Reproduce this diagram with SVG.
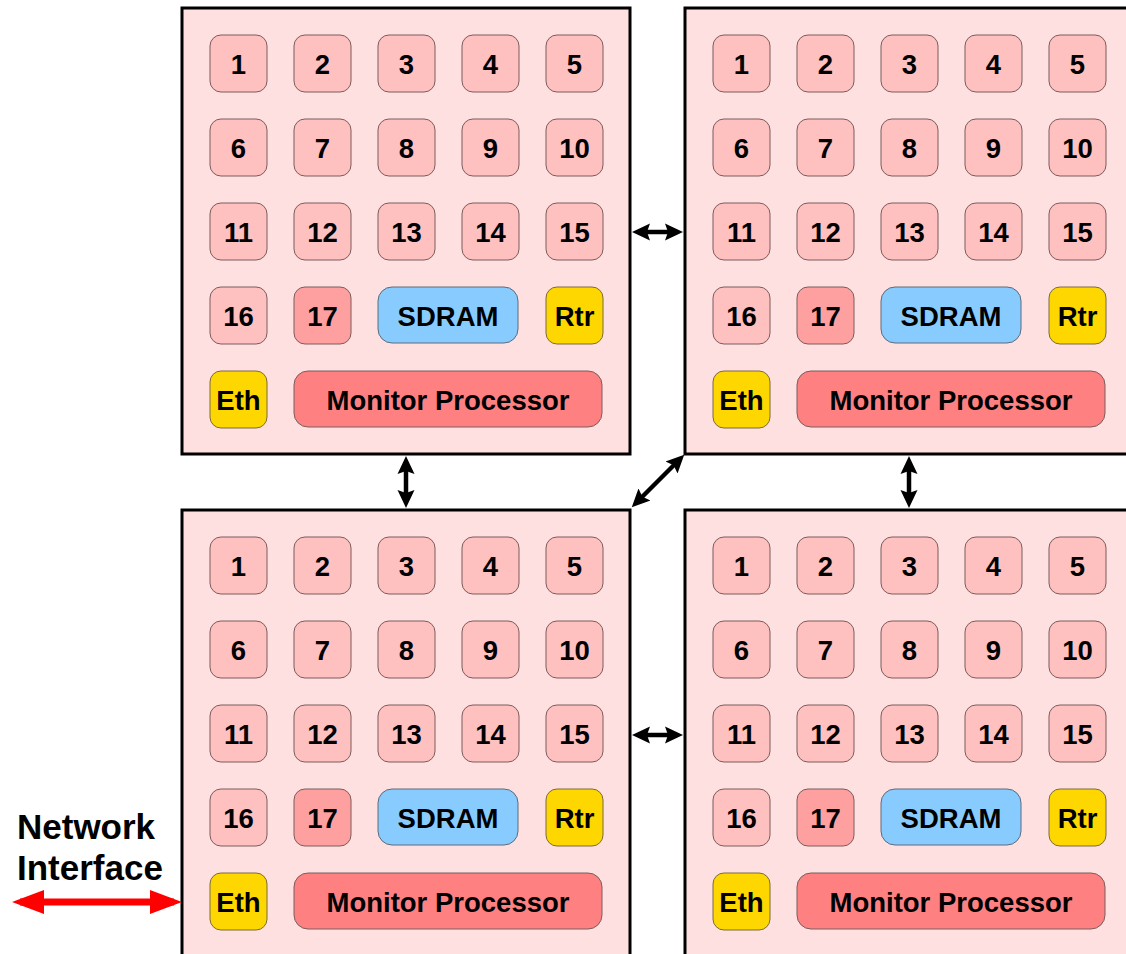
<svg xmlns="http://www.w3.org/2000/svg" width="1126" height="954" viewBox="0 0 1126 954">
<style>
.chip{fill:#FFE0E0;stroke:#000;stroke-width:3}
.t{fill:#FFC0C0;stroke:#7a5c5c;stroke-width:1}
.p{fill:#FFA0A0;stroke:#7a5c5c;stroke-width:1}
.d{fill:#FF8080;stroke:#7a5c5c;stroke-width:1}
.s{fill:#88CCFF;stroke:#5c6a7a;stroke-width:1}
.y{fill:#FFD700;stroke:#7a6a3c;stroke-width:1}
text{font-family:"Liberation Sans",Arial,sans-serif;font-weight:bold;fill:#000}
.l{font-size:27.5px;text-anchor:middle}
.n{font-size:35px}
.a{stroke:#000;stroke-width:4.5;fill:none}
.r{stroke:#FF0000;stroke-width:7;fill:none}
</style>
<defs>
<marker id="ah" markerUnits="userSpaceOnUse" markerWidth="20" markerHeight="20" refX="12" refY="10" orient="auto-start-reverse">
<path d="M0,1.5 L18,10 L0,18.5 L3,10 z" fill="#000"/>
</marker>
<marker id="rh" markerUnits="userSpaceOnUse" markerWidth="34" markerHeight="26" refX="24" refY="13" orient="auto-start-reverse">
<path d="M0,1 L32,13 L0,25 z" fill="#FF0000"/>
</marker>
</defs>

<g id="chip00" transform="translate(0,0)">
<rect class="chip" x="182" y="8" width="448" height="446"/>
<g id="c00-1"><rect class="t" x="210" y="35" width="57" height="57" rx="11"/><text class="l" x="238.5" y="74">1</text></g>
<g id="c00-2"><rect class="t" x="294" y="35" width="57" height="57" rx="11"/><text class="l" x="322.5" y="74">2</text></g>
<g id="c00-3"><rect class="t" x="378" y="35" width="57" height="57" rx="11"/><text class="l" x="406.5" y="74">3</text></g>
<g id="c00-4"><rect class="t" x="462" y="35" width="57" height="57" rx="11"/><text class="l" x="490.5" y="74">4</text></g>
<g id="c00-5"><rect class="t" x="546" y="35" width="57" height="57" rx="11"/><text class="l" x="574.5" y="74">5</text></g>
<g id="c00-6"><rect class="t" x="210" y="119" width="57" height="57" rx="11"/><text class="l" x="238.5" y="158">6</text></g>
<g id="c00-7"><rect class="t" x="294" y="119" width="57" height="57" rx="11"/><text class="l" x="322.5" y="158">7</text></g>
<g id="c00-8"><rect class="t" x="378" y="119" width="57" height="57" rx="11"/><text class="l" x="406.5" y="158">8</text></g>
<g id="c00-9"><rect class="t" x="462" y="119" width="57" height="57" rx="11"/><text class="l" x="490.5" y="158">9</text></g>
<g id="c00-10"><rect class="t" x="546" y="119" width="57" height="57" rx="11"/><text class="l" x="574.5" y="158">10</text></g>
<g id="c00-11"><rect class="t" x="210" y="203" width="57" height="57" rx="11"/><text class="l" x="238.5" y="242">11</text></g>
<g id="c00-12"><rect class="t" x="294" y="203" width="57" height="57" rx="11"/><text class="l" x="322.5" y="242">12</text></g>
<g id="c00-13"><rect class="t" x="378" y="203" width="57" height="57" rx="11"/><text class="l" x="406.5" y="242">13</text></g>
<g id="c00-14"><rect class="t" x="462" y="203" width="57" height="57" rx="11"/><text class="l" x="490.5" y="242">14</text></g>
<g id="c00-15"><rect class="t" x="546" y="203" width="57" height="57" rx="11"/><text class="l" x="574.5" y="242">15</text></g>
<g id="c00-16"><rect class="t" x="210" y="287" width="57" height="57" rx="11"/><text class="l" x="238.5" y="326">16</text></g>
<g id="c00-17"><rect class="p" x="294" y="287" width="57" height="57" rx="11"/><text class="l" x="322.5" y="326">17</text></g>
<g id="c00-sdram"><rect class="s" x="378" y="287" width="140" height="56" rx="14"/><text class="l" x="448" y="326">SDRAM</text></g>
<g id="c00-rtr"><rect class="y" x="546" y="287" width="57" height="57" rx="11"/><text class="l" x="574.5" y="326">Rtr</text></g>
<g id="c00-eth"><rect class="y" x="210" y="371" width="57" height="57" rx="11"/><text class="l" x="238.5" y="410">Eth</text></g>
<g id="c00-mon"><rect class="d" x="294" y="371" width="308" height="56" rx="14"/><text class="l" x="448" y="410">Monitor Processor</text></g>
</g>

<g id="chip10" transform="translate(503,0)">
<rect class="chip" x="182" y="8" width="448" height="446"/>
<g id="c10-1"><rect class="t" x="210" y="35" width="57" height="57" rx="11"/><text class="l" x="238.5" y="74">1</text></g>
<g id="c10-2"><rect class="t" x="294" y="35" width="57" height="57" rx="11"/><text class="l" x="322.5" y="74">2</text></g>
<g id="c10-3"><rect class="t" x="378" y="35" width="57" height="57" rx="11"/><text class="l" x="406.5" y="74">3</text></g>
<g id="c10-4"><rect class="t" x="462" y="35" width="57" height="57" rx="11"/><text class="l" x="490.5" y="74">4</text></g>
<g id="c10-5"><rect class="t" x="546" y="35" width="57" height="57" rx="11"/><text class="l" x="574.5" y="74">5</text></g>
<g id="c10-6"><rect class="t" x="210" y="119" width="57" height="57" rx="11"/><text class="l" x="238.5" y="158">6</text></g>
<g id="c10-7"><rect class="t" x="294" y="119" width="57" height="57" rx="11"/><text class="l" x="322.5" y="158">7</text></g>
<g id="c10-8"><rect class="t" x="378" y="119" width="57" height="57" rx="11"/><text class="l" x="406.5" y="158">8</text></g>
<g id="c10-9"><rect class="t" x="462" y="119" width="57" height="57" rx="11"/><text class="l" x="490.5" y="158">9</text></g>
<g id="c10-10"><rect class="t" x="546" y="119" width="57" height="57" rx="11"/><text class="l" x="574.5" y="158">10</text></g>
<g id="c10-11"><rect class="t" x="210" y="203" width="57" height="57" rx="11"/><text class="l" x="238.5" y="242">11</text></g>
<g id="c10-12"><rect class="t" x="294" y="203" width="57" height="57" rx="11"/><text class="l" x="322.5" y="242">12</text></g>
<g id="c10-13"><rect class="t" x="378" y="203" width="57" height="57" rx="11"/><text class="l" x="406.5" y="242">13</text></g>
<g id="c10-14"><rect class="t" x="462" y="203" width="57" height="57" rx="11"/><text class="l" x="490.5" y="242">14</text></g>
<g id="c10-15"><rect class="t" x="546" y="203" width="57" height="57" rx="11"/><text class="l" x="574.5" y="242">15</text></g>
<g id="c10-16"><rect class="t" x="210" y="287" width="57" height="57" rx="11"/><text class="l" x="238.5" y="326">16</text></g>
<g id="c10-17"><rect class="p" x="294" y="287" width="57" height="57" rx="11"/><text class="l" x="322.5" y="326">17</text></g>
<g id="c10-sdram"><rect class="s" x="378" y="287" width="140" height="56" rx="14"/><text class="l" x="448" y="326">SDRAM</text></g>
<g id="c10-rtr"><rect class="y" x="546" y="287" width="57" height="57" rx="11"/><text class="l" x="574.5" y="326">Rtr</text></g>
<g id="c10-eth"><rect class="y" x="210" y="371" width="57" height="57" rx="11"/><text class="l" x="238.5" y="410">Eth</text></g>
<g id="c10-mon"><rect class="d" x="294" y="371" width="308" height="56" rx="14"/><text class="l" x="448" y="410">Monitor Processor</text></g>
</g>

<g id="chip01" transform="translate(0,502)">
<rect class="chip" x="182" y="8" width="448" height="446"/>
<g id="c01-1"><rect class="t" x="210" y="35" width="57" height="57" rx="11"/><text class="l" x="238.5" y="74">1</text></g>
<g id="c01-2"><rect class="t" x="294" y="35" width="57" height="57" rx="11"/><text class="l" x="322.5" y="74">2</text></g>
<g id="c01-3"><rect class="t" x="378" y="35" width="57" height="57" rx="11"/><text class="l" x="406.5" y="74">3</text></g>
<g id="c01-4"><rect class="t" x="462" y="35" width="57" height="57" rx="11"/><text class="l" x="490.5" y="74">4</text></g>
<g id="c01-5"><rect class="t" x="546" y="35" width="57" height="57" rx="11"/><text class="l" x="574.5" y="74">5</text></g>
<g id="c01-6"><rect class="t" x="210" y="119" width="57" height="57" rx="11"/><text class="l" x="238.5" y="158">6</text></g>
<g id="c01-7"><rect class="t" x="294" y="119" width="57" height="57" rx="11"/><text class="l" x="322.5" y="158">7</text></g>
<g id="c01-8"><rect class="t" x="378" y="119" width="57" height="57" rx="11"/><text class="l" x="406.5" y="158">8</text></g>
<g id="c01-9"><rect class="t" x="462" y="119" width="57" height="57" rx="11"/><text class="l" x="490.5" y="158">9</text></g>
<g id="c01-10"><rect class="t" x="546" y="119" width="57" height="57" rx="11"/><text class="l" x="574.5" y="158">10</text></g>
<g id="c01-11"><rect class="t" x="210" y="203" width="57" height="57" rx="11"/><text class="l" x="238.5" y="242">11</text></g>
<g id="c01-12"><rect class="t" x="294" y="203" width="57" height="57" rx="11"/><text class="l" x="322.5" y="242">12</text></g>
<g id="c01-13"><rect class="t" x="378" y="203" width="57" height="57" rx="11"/><text class="l" x="406.5" y="242">13</text></g>
<g id="c01-14"><rect class="t" x="462" y="203" width="57" height="57" rx="11"/><text class="l" x="490.5" y="242">14</text></g>
<g id="c01-15"><rect class="t" x="546" y="203" width="57" height="57" rx="11"/><text class="l" x="574.5" y="242">15</text></g>
<g id="c01-16"><rect class="t" x="210" y="287" width="57" height="57" rx="11"/><text class="l" x="238.5" y="326">16</text></g>
<g id="c01-17"><rect class="p" x="294" y="287" width="57" height="57" rx="11"/><text class="l" x="322.5" y="326">17</text></g>
<g id="c01-sdram"><rect class="s" x="378" y="287" width="140" height="56" rx="14"/><text class="l" x="448" y="326">SDRAM</text></g>
<g id="c01-rtr"><rect class="y" x="546" y="287" width="57" height="57" rx="11"/><text class="l" x="574.5" y="326">Rtr</text></g>
<g id="c01-eth"><rect class="y" x="210" y="371" width="57" height="57" rx="11"/><text class="l" x="238.5" y="410">Eth</text></g>
<g id="c01-mon"><rect class="d" x="294" y="371" width="308" height="56" rx="14"/><text class="l" x="448" y="410">Monitor Processor</text></g>
</g>

<g id="chip11" transform="translate(503,502)">
<rect class="chip" x="182" y="8" width="448" height="446"/>
<g id="c11-1"><rect class="t" x="210" y="35" width="57" height="57" rx="11"/><text class="l" x="238.5" y="74">1</text></g>
<g id="c11-2"><rect class="t" x="294" y="35" width="57" height="57" rx="11"/><text class="l" x="322.5" y="74">2</text></g>
<g id="c11-3"><rect class="t" x="378" y="35" width="57" height="57" rx="11"/><text class="l" x="406.5" y="74">3</text></g>
<g id="c11-4"><rect class="t" x="462" y="35" width="57" height="57" rx="11"/><text class="l" x="490.5" y="74">4</text></g>
<g id="c11-5"><rect class="t" x="546" y="35" width="57" height="57" rx="11"/><text class="l" x="574.5" y="74">5</text></g>
<g id="c11-6"><rect class="t" x="210" y="119" width="57" height="57" rx="11"/><text class="l" x="238.5" y="158">6</text></g>
<g id="c11-7"><rect class="t" x="294" y="119" width="57" height="57" rx="11"/><text class="l" x="322.5" y="158">7</text></g>
<g id="c11-8"><rect class="t" x="378" y="119" width="57" height="57" rx="11"/><text class="l" x="406.5" y="158">8</text></g>
<g id="c11-9"><rect class="t" x="462" y="119" width="57" height="57" rx="11"/><text class="l" x="490.5" y="158">9</text></g>
<g id="c11-10"><rect class="t" x="546" y="119" width="57" height="57" rx="11"/><text class="l" x="574.5" y="158">10</text></g>
<g id="c11-11"><rect class="t" x="210" y="203" width="57" height="57" rx="11"/><text class="l" x="238.5" y="242">11</text></g>
<g id="c11-12"><rect class="t" x="294" y="203" width="57" height="57" rx="11"/><text class="l" x="322.5" y="242">12</text></g>
<g id="c11-13"><rect class="t" x="378" y="203" width="57" height="57" rx="11"/><text class="l" x="406.5" y="242">13</text></g>
<g id="c11-14"><rect class="t" x="462" y="203" width="57" height="57" rx="11"/><text class="l" x="490.5" y="242">14</text></g>
<g id="c11-15"><rect class="t" x="546" y="203" width="57" height="57" rx="11"/><text class="l" x="574.5" y="242">15</text></g>
<g id="c11-16"><rect class="t" x="210" y="287" width="57" height="57" rx="11"/><text class="l" x="238.5" y="326">16</text></g>
<g id="c11-17"><rect class="p" x="294" y="287" width="57" height="57" rx="11"/><text class="l" x="322.5" y="326">17</text></g>
<g id="c11-sdram"><rect class="s" x="378" y="287" width="140" height="56" rx="14"/><text class="l" x="448" y="326">SDRAM</text></g>
<g id="c11-rtr"><rect class="y" x="546" y="287" width="57" height="57" rx="11"/><text class="l" x="574.5" y="326">Rtr</text></g>
<g id="c11-eth"><rect class="y" x="210" y="371" width="57" height="57" rx="11"/><text class="l" x="238.5" y="410">Eth</text></g>
<g id="c11-mon"><rect class="d" x="294" y="371" width="308" height="56" rx="14"/><text class="l" x="448" y="410">Monitor Processor</text></g>
</g>

<g id="netlabel">
<text class="n" x="17" y="839">Network</text>
<text class="n" x="17" y="880">Interface</text>
</g>

<g id="connectors">
<line class="a" x1="638" y1="232" x2="677" y2="232" marker-start="url(#ah)" marker-end="url(#ah)"/>
<line class="a" x1="638" y1="735" x2="677" y2="735" marker-start="url(#ah)" marker-end="url(#ah)"/>
<line class="a" x1="406" y1="462" x2="406" y2="502" marker-start="url(#ah)" marker-end="url(#ah)"/>
<line class="a" x1="909" y1="462" x2="909" y2="502" marker-start="url(#ah)" marker-end="url(#ah)"/>
<line class="a" x1="636" y1="503" x2="680" y2="459" marker-start="url(#ah)" marker-end="url(#ah)"/>
<line class="r" x1="20" y1="902" x2="174" y2="902" marker-start="url(#rh)" marker-end="url(#rh)"/>
</g>
</svg>
